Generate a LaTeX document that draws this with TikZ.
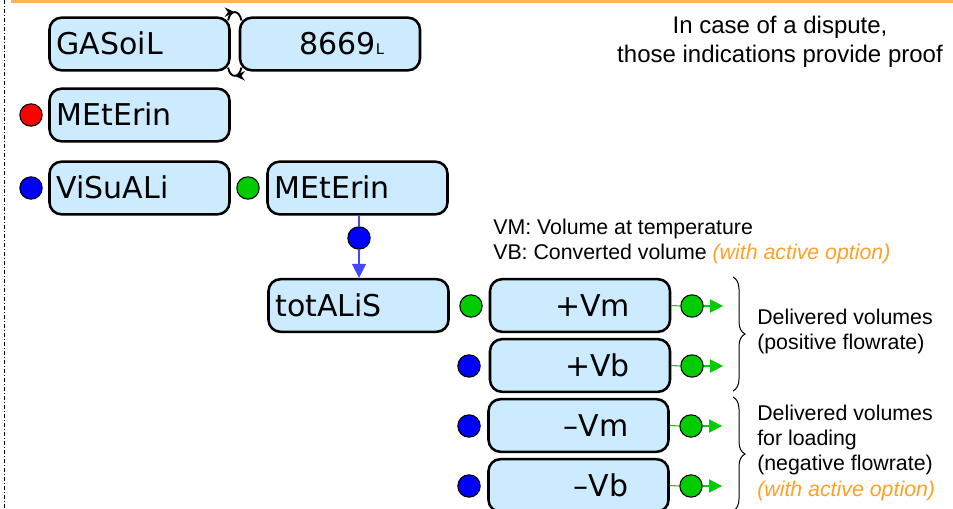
\documentclass[tikz,border=0pt]{standalone}
\usepackage{fontspec}
\setmainfont{Liberation Sans}
\newfontfamily\boxfont{DejaVu Sans}
\usetikzlibrary{arrows.meta,decorations.markings,decorations.pathreplacing,calc}
\definecolor{boxblue}{RGB}{204,235,255}
\definecolor{optorange}{RGB}{255,160,40}
\definecolor{topline}{RGB}{255,176,90}
\definecolor{dotred}{RGB}{255,0,0}
\definecolor{dotblue}{RGB}{0,0,255}
\definecolor{dotgreen}{RGB}{0,204,0}
\definecolor{lineblue}{RGB}{70,70,255}
\begin{document}
\begin{tikzpicture}[x=0.75pt,y=-0.75pt,
  box/.style={draw, line width=1.9pt, fill=boxblue, rounded corners=9pt,
    minimum width=135pt, minimum height=39.5pt, inner sep=0pt,
    font=\boxfont\fontsize{22.5pt}{24pt}\selectfont, text height=16.4pt, text depth=0pt},
  boxL/.style={box, align=left, text width=124.5pt},
  boxR/.style={box, align=right, text width=#1},
  dot/.style={circle, draw, line width=0.8pt, minimum size=16.8pt, inner sep=0pt, fill=#1},
  gline/.style={draw=dotgreen, line width=0.8pt},
  garrow/.style={gline, -{Triangle[length=9.75pt,width=10pt,fill=dotgreen]}},
  bline/.style={draw=lineblue, line width=0.8pt},
  curvearrow/.style={line width=1.4pt, postaction={decorate},
    decoration={markings, mark=at position 0.5 with {\arrow{Stealth[length=7.5pt,width=7pt]}}}},
  bracestyle/.style={draw, line width=0.75pt, decorate, decoration={brace, amplitude=9pt}},
  annot/.style={inner sep=0pt, align=left, anchor=west, font=\fontsize{16pt}{19pt}\selectfont}
]
\useasboundingbox (0,0) rectangle (953,509);
\clip (0,0) rectangle (953,509);

% frame lines
\draw[line width=2.25pt, topline] (11,1.5) -- (953,1.5);
\draw[line width=0.75pt, dash pattern=on 3pt off 1.5pt on 0.75pt off 1.5pt] (4,0) -- (4,509);

% boxes
\node[boxL] (gas) at (139.5,44) {GASoiL};
\node[boxR=81pt] (cnt) at (330,44) {8669{\fontsize{11pt}{11pt}\selectfont L}};
\node[boxL] (met1) at (139.5,115) {MEtErin};
\node[boxL] (vis) at (139.5,188) {ViSuALi};
\node[boxL] (met2) at (357.5,188) {MEtErin};
\node[boxL] (tot) at (358.5,305.5) {totALiS};
\node[boxR=75pt] (pvm) at (580,305.5) {+Vm};
\node[boxR=75pt] (pvb) at (580,365.5) {+Vb};
\node[boxR=75pt] (nvm) at (578.5,425.5) {–Vm};
\node[boxR=75pt] (nvb) at (578.5,485.5) {–Vb};

% dots
\node[dot=dotred] (d1) at (31,115) {};
\node[dot=dotblue] (d2) at (31,188) {};
\node[dot=dotgreen] (d3) at (248,188) {};
\node[dot=dotblue] (d4) at (359,238) {};
\node[dot=dotgreen] (d5) at (471,306) {};
\node[dot=dotblue] (d6) at (469,366) {};
\node[dot=dotblue] (d7) at (469,426) {};
\node[dot=dotblue] (d8) at (469,486) {};
\node[dot=dotgreen] (o1) at (692,306) {};
\node[dot=dotgreen] (o2) at (692,366) {};
\node[dot=dotgreen] (o3) at (691,426) {};
\node[dot=dotgreen] (o4) at (691,486) {};

% arrow ends
\coordinate (t1) at (723,306);
\coordinate (t2) at (723,366);
\coordinate (t3) at (722,426);
\coordinate (t4) at (722,486);

% green outputs
\draw[gline] (pvm.east) -- (o1.west);
\draw[garrow] (o1.east) -- (t1);
\draw[gline] (pvb.east) -- (o2.west);
\draw[garrow] (o2.east) -- (t2);
\draw[gline] (nvm.east) -- (o3.west);
\draw[garrow] (o3.east) -- (t3);
\draw[gline] (nvb.east) -- (o4.west);
\draw[garrow] (o4.east) -- (t4);

% blue link
\draw[bline] (d4.north |- met2.south) -- (d4.north);
\draw[bline, -{Triangle[length=10.5pt,width=10.5pt,fill=lineblue]}] (d4.south) -- (d4.south |- tot.north);

% exchange arrows between GASoiL and counter
\coordinate (a1) at ([xshift=-2pt,yshift=-3pt]gas.north east);
\coordinate (a2) at ([xshift=2pt,yshift=-3pt]cnt.north west);
\coordinate (b1) at ([xshift=2pt,yshift=3pt]cnt.south west);
\coordinate (b2) at ([xshift=-2pt,yshift=3pt]gas.south east);
\draw[curvearrow] (a1) .. controls ($(a1)+(2,-11)$) and ($(a2)+(-2,-11)$) .. (a2);
\draw[curvearrow] (b1) .. controls ($(b1)+(-2,11)$) and ($(b2)+(2,11)$) .. (b2);

% texts
\node[inner sep=0pt, align=center, font=\fontsize{18pt}{21.75pt}\selectfont] (disp) at (780,41.5)
  {In case of a dispute,\\those indications provide proof};
\node[annot, font=\fontsize{16pt}{18.75pt}\selectfont] (vmvb) at (493,241.5)
  {VM: Volume at temperature\\VB: Converted volume \textcolor{optorange}{\itshape (with active option)}};
\node[annot] (del1) at (757,331.5) {Delivered volumes\\(positive flowrate)};
\node[annot] (del2) at (757,452.5)
  {Delivered volumes\\for loading\\(negative flowrate)\\\textcolor{optorange}{\itshape (with active option)}};

% braces
\coordinate (br1a) at (733,277);
\coordinate (br1b) at (733,391);
\coordinate (br2a) at (733,397);
\coordinate (br2b) at (733,511);
\draw[bracestyle] (br1a) -- (br1b);
\draw[bracestyle] (br2a) -- (br2b);
\end{tikzpicture}
\end{document}
